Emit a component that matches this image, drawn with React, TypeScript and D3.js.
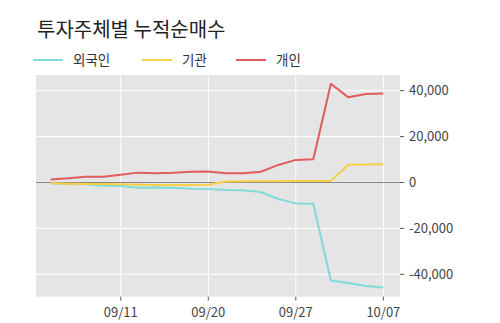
import React from "react";
import * as d3 from "d3";

const dates = ["09/05","09/06","09/09","09/10","09/11","09/16","09/17","09/18","09/19","09/20","09/23","09/24","09/25","09/26","09/27","09/30","10/01","10/02","10/04","10/07"];
const foreign = [-350,-600,-800,-1400,-1500,-2300,-2200,-2300,-2700,-2800,-3300,-3400,-4150,-7200,-9100,-9300,-42700,-43800,-45100,-45700];
const institution = [-300,-500,-600,-700,-800,-1000,-1100,-1100,-1100,-1000,400,500,500,500,600,600,700,7700,7800,8000];
const individual = [1300,1800,2500,2500,3400,4300,4000,4200,4700,4800,4000,4000,4700,7650,9850,10100,43000,37100,38600,38800];
const yTicks = [-40000,-20000,0,20000,40000];
const xTickIdx = [4,9,14,19];

const seriesNames = ["외국인","기관","개인"];
const seriesColors = ["#7fdbd9","#f9cf47","#e15c5c"];

const W = 500, H = 323;
const FONT = "'Noto Sans CJK KR', 'Noto Sans', sans-serif";

export default function App() {
  const x = d3.scaleLinear().domain([-0.84, 19.95]).range([36, 400]);
  const y = d3.scaleLinear().domain([-49760, 46840]).range([296.7, 75]);
  const line = d3.line<number>().x((_, i) => x(i)).y(d => y(d));
  const allSeries = [foreign, institution, individual];
  const fmt = d3.format(",");
  const legendX = [33, 142, 236];

  return (
    <svg width={W} height={H} style={{ position: "absolute", left: 0, top: 0, background: "#fff" }} fontFamily={FONT}>
      <text x={37} y={37} fontSize={20} fill="#222">투자주체별 누적순매수</text>
      {seriesNames.map((n, i) => (
        <g key={n}>
          <line x1={legendX[i]} x2={legendX[i] + 30} y1={60} y2={60} stroke={seriesColors[i]} strokeWidth={2} />
          <text x={legendX[i] + 40} y={64.5} fontSize={13.5} fill="#333">{n}</text>
        </g>
      ))}
      <rect x={36} y={75} width={364} height={221.7} fill="#e5e5e5" />
      {yTicks.filter(t => t !== 0).map(t => (
        <line key={t} x1={36} x2={400} y1={y(t)} y2={y(t)} stroke="#fff" strokeWidth={1} />
      ))}
      {xTickIdx.map(i => (
        <line key={i} x1={x(i)} x2={x(i)} y1={75} y2={296.7} stroke="#fff" strokeWidth={1} />
      ))}
      <line x1={36} x2={400} y1={y(0)} y2={y(0)} stroke="#888" strokeWidth={1.2} />
      {allSeries.map((s, i) => (
        <path key={i} d={line(s) || ""} fill="none" stroke={seriesColors[i]} strokeWidth={2} strokeLinejoin="round" />
      ))}
      {yTicks.map(t => (
        <g key={t}>
          <line x1={400} x2={404} y1={y(t)} y2={y(t)} stroke="#555" strokeWidth={1} />
          <text x={409} y={y(t)} dy="0.35em" fontSize={13} fill="#444">{fmt(t).replace("−", "-")}</text>
        </g>
      ))}
      {xTickIdx.map(i => (
        <g key={i}>
          <line x1={x(i)} x2={x(i)} y1={296.7} y2={300.5} stroke="#555" strokeWidth={1} />
          <text x={x(i)} y={316.5} textAnchor="middle" fontSize={13} fill="#444">{dates[i]}</text>
        </g>
      ))}
    </svg>
  );
}
